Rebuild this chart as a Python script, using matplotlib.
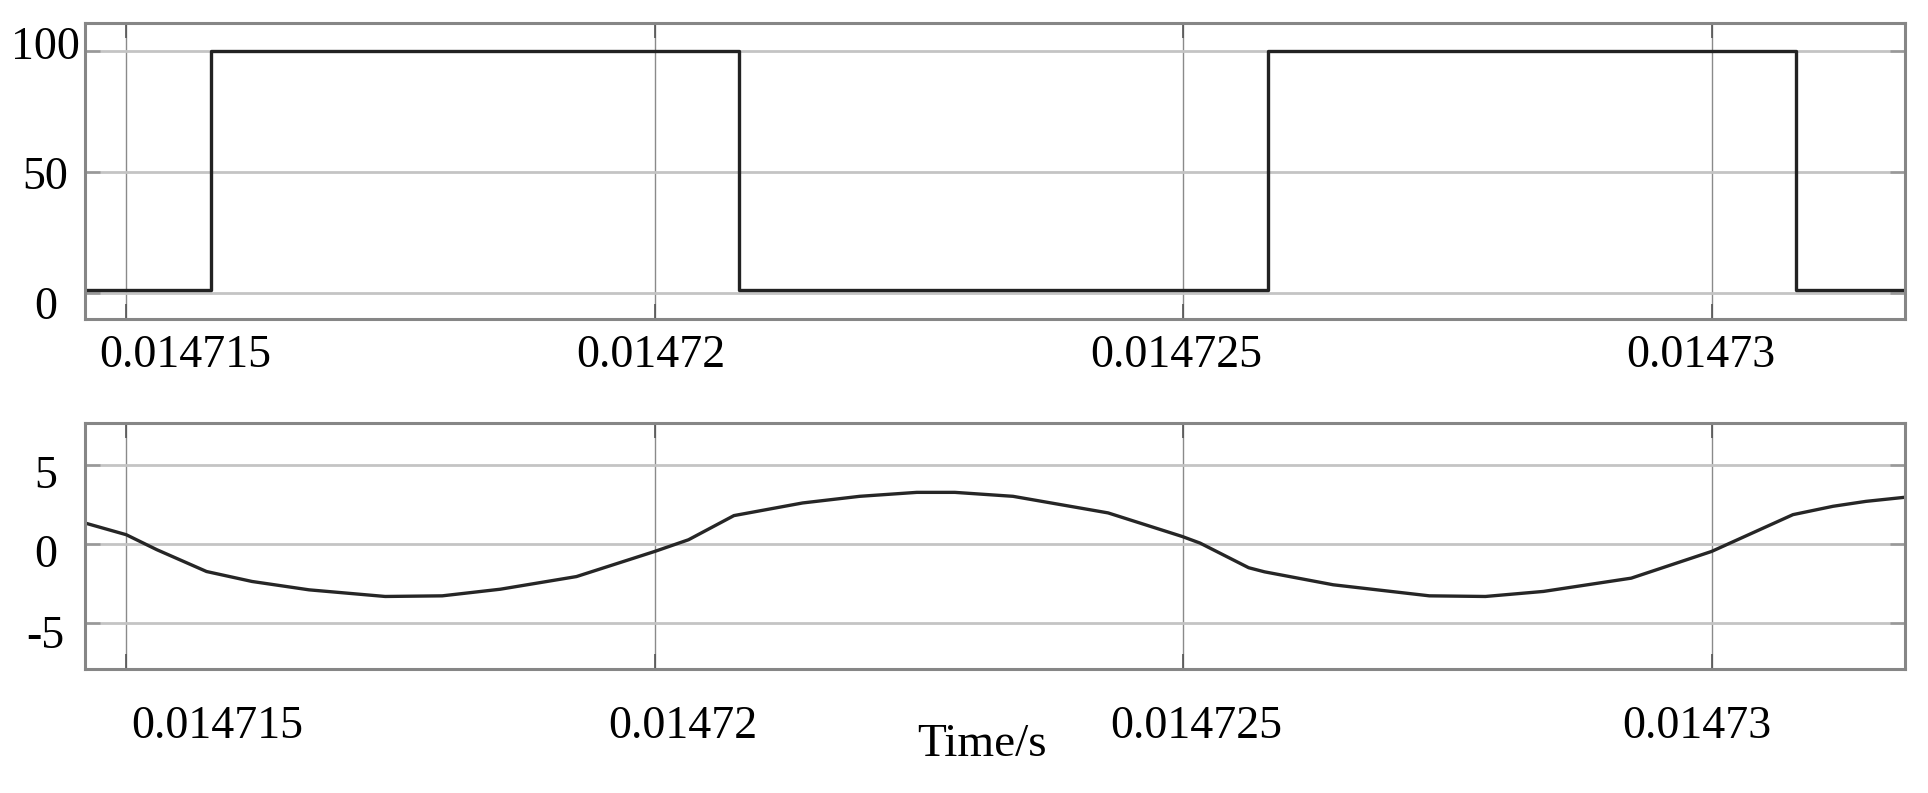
import numpy as np
import matplotlib
matplotlib.use("Agg")
import matplotlib.pyplot as plt
from matplotlib.transforms import ScaledTranslation

plt.rcParams['font.family'] = ['Liberation Serif', 'DejaVu Serif']

# upper trace: switching signal (step edges and levels)
sw_t = [0.01471461, 0.0147158, 0.0147208, 0.0147258, 0.0147308, 0.01473183]
sw_v = [1, 100, 1, 100, 1, 1]

# lower trace: current
cur_t = [0.01471461, 0.01471500, 0.01471529, 0.01471576, 0.01471619, 0.01471673,
         0.01471745, 0.01471799, 0.01471854, 0.01471926, 0.01472000, 0.01472032,
         0.01472075, 0.01472140, 0.01472194, 0.01472248, 0.01472284, 0.01472339,
         0.01472429, 0.01472499, 0.01472516, 0.01472562, 0.01472577, 0.01472642,
         0.01472733, 0.01472786, 0.01472841, 0.01472924, 0.01473000, 0.01473077,
         0.01473115, 0.01473146, 0.01473183]
cur_v = [1.33, 0.59, -0.36, -1.74, -2.37, -2.90,
         -3.32, -3.28, -2.86, -2.06, -0.47, 0.27,
         1.80, 2.60, 3.02, 3.27, 3.27, 3.02,
         1.97, 0.48, 0.06, -1.50, -1.76, -2.58,
         -3.28, -3.32, -3.00, -2.16, -0.47, 1.86,
         2.39, 2.70, 2.96]

xticks = [0.014715, 0.01472, 0.014725, 0.01473]
xlabels = ['0.014715', '0.01472', '0.014725', '0.01473']
top_yticks = [0, 50, 100]
bot_yticks = [-5, 0, 5]

xlim = (0.01471461, 0.01473183)

fig = plt.figure(figsize=(19.28, 7.93), dpi=100)
ax1 = fig.add_axes([85/1928, 1-319/793, 1820/1928, 296.3/793])
ax2 = fig.add_axes([85/1928, 1-669.3/793, 1820/1928, 246.6/793])

frame_c = '#868686'
fs = 33

def style(ax, yt, ylim, xpad, xoff, yoff):
    ax.set_xlim(xlim)
    ax.set_ylim(ylim)
    ax.set_xticks(xticks)
    ax.set_xticklabels(xlabels)
    ax.set_yticks(yt)
    ax.set_yticklabels([str(v) for v in yt])
    for s in ax.spines.values():
        s.set_color(frame_c)
        s.set_linewidth(2.2)
    ax.tick_params(axis='x', direction='in', length=11, width=1.2, color='#555555',
                   top=True, labelsize=fs, pad=xpad)
    ax.tick_params(axis='y', direction='in', length=11, width=1.8, color='#999999',
                   right=True, labelsize=fs, pad=22)
    ax.xaxis.grid(True, color='#8a8a8a', lw=1.0)
    ax.yaxis.grid(True, color='#c4c4c4', lw=2.0)
    ax.set_axisbelow(True)
    for lab, dx in zip(ax.get_xticklabels(), xoff):
        lab.set_transform(lab.get_transform() + ScaledTranslation(dx/100, 0, fig.dpi_scale_trans))
    for lab, dy in zip(ax.get_yticklabels(), yoff):
        lab.set_horizontalalignment('center')
        lab.set_transform(lab.get_transform() + ScaledTranslation(-0.09, -dy/100, fig.dpi_scale_trans))

ax1.step(sw_t, sw_v, where='post', color='#222222', lw=2.4)
style(ax1, top_yticks, (-10.9, 111.6), 11, [59, -4, -7, -11], [10, 1, -8])

ax2.plot(cur_t, cur_v, color='#262626', lw=2.4)
style(ax2, bot_yticks, (-7.93, 7.68), 26, [91, 28, 13, -15], [9, 7, 7])

fig.text(982/1928, 1-745/793, 'Time/s', ha='center', va='center', fontsize=34)

fig.savefig('out.png', dpi=100)
